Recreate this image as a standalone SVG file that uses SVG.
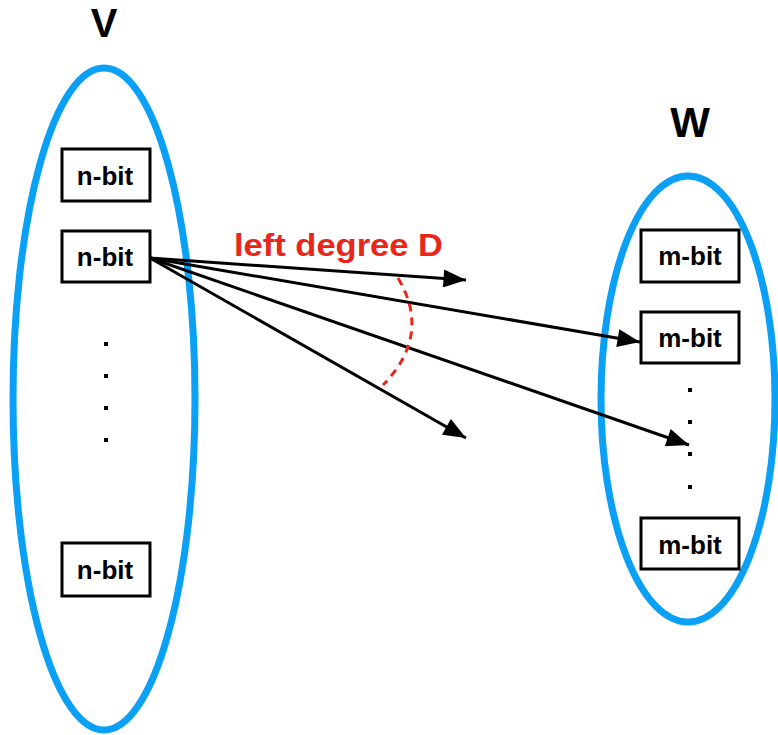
<svg xmlns="http://www.w3.org/2000/svg" width="778" height="735" viewBox="0 0 778 735">
<style>
.set{fill:none;stroke:#0aa0f5;stroke-width:7}
.box{fill:#fff;stroke:#000;stroke-width:3}
.lbl{font-family:"Liberation Sans",Arial,sans-serif;font-weight:bold;font-size:26px;text-anchor:middle;fill:#000}
.big{font-family:"Liberation Sans",Arial,sans-serif;font-weight:bold;font-size:42px;text-anchor:middle;fill:#000}
.dot{fill:#000}
</style>
<defs>
<marker id="ah2" viewBox="0 0 20 16" refX="20" refY="8" markerWidth="24" markerHeight="18" orient="auto" markerUnits="userSpaceOnUse">
<path d="M0,0 L20,8 L0,16 z" fill="#000"/>
</marker>
</defs>
<g id="V">
<ellipse class="set" cx="104" cy="399" rx="91" ry="331"/>
<text class="big" x="104" y="37" style="font-size:40px">V</text>
</g>
<g id="W">
<ellipse class="set" cx="688" cy="399" rx="87" ry="223"/>
<text class="big" x="690" y="137">W</text>
</g>
<g id="v1"><rect class="box" x="62" y="149" width="88" height="52"/><text class="lbl" x="105" y="185">n-bit</text></g>
<g id="v2"><rect class="box" x="62" y="231" width="88" height="51"/><text class="lbl" x="105" y="266">n-bit</text></g>
<g id="v3"><rect class="box" x="62" y="543" width="88" height="53"/><text class="lbl" x="105" y="579">n-bit</text></g>
<g id="vdots">
<rect class="dot" x="104" y="342" width="4" height="4"/>
<rect class="dot" x="104" y="374" width="4" height="4"/>
<rect class="dot" x="104" y="406" width="4" height="4"/>
<rect class="dot" x="104" y="438" width="4" height="4"/>
</g>
<g id="w1"><rect class="box" x="641" y="230" width="98" height="52"/><text class="lbl" x="690" y="265">m-bit</text></g>
<g id="w2"><rect class="box" x="641" y="312" width="98" height="51"/><text class="lbl" x="690" y="347">m-bit</text></g>
<g id="w3"><rect class="box" x="641" y="518" width="98" height="51"/><text class="lbl" x="690" y="554">m-bit</text></g>
<g id="wdots">
<rect class="dot" x="688" y="388" width="4" height="4"/>
<rect class="dot" x="688" y="420" width="4" height="4"/>
<rect class="dot" x="688" y="452" width="4" height="4"/>
<rect class="dot" x="688" y="485" width="4" height="4"/>
</g>
<g id="connectors">
<line x1="150" y1="258" x2="466" y2="280" stroke="#000" stroke-width="3" marker-end="url(#ah2)"/>
<line x1="150" y1="258" x2="640" y2="342" stroke="#000" stroke-width="3" marker-end="url(#ah2)"/>
<line x1="150" y1="258" x2="689" y2="445" stroke="#000" stroke-width="3" marker-end="url(#ah2)"/>
<line x1="150" y1="258" x2="466" y2="438" stroke="#000" stroke-width="3" marker-end="url(#ah2)"/>
<path d="M398,278 Q432,335 383,385" fill="none" stroke="#e8261a" stroke-width="3" stroke-dasharray="8,6"/>
</g>
<g id="degree">
<text x="234" y="256" font-family="'Liberation Sans',Arial,sans-serif" font-weight="bold" font-size="32" textLength="209" lengthAdjust="spacingAndGlyphs" fill="#e8261a">left degree D</text>
</g>
</svg>
